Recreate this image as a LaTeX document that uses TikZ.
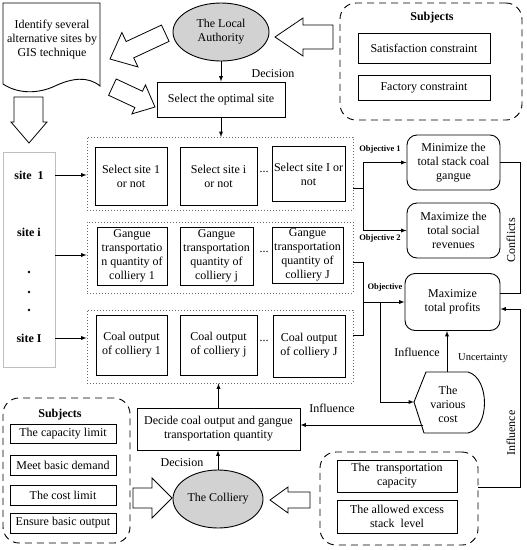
\documentclass[tikz,border=0pt]{standalone}
\usepackage{fontspec}
\setmainfont{Liberation Serif}
\usetikzlibrary{shapes.geometric}

\begin{document}
\begin{tikzpicture}[x=1pt, y=-1pt, >=latex, line width=0.9pt,
  font=\fontsize{12}{14}\selectfont,
  box/.style={draw, align=center, inner sep=1pt},
  rbox/.style={draw, rounded corners=10pt, align=center, inner sep=1pt},
  group/.style={draw=gray!80!black, dash pattern=on 1pt off 2pt},
  subj/.style={draw, dash pattern=on 7pt off 5pt, rounded corners=16pt},
  actor/.style={draw, ellipse, fill=gray!35, align=center, inner sep=0pt},
  hollow/.style={draw, fill=white, line width=0.8pt},
  bold/.style={font=\fontsize{12}{14}\selectfont\bfseries},
  tag/.style={font=\fontsize{8.5}{10}\selectfont\bfseries}]

  \useasboundingbox (0,0) rectangle (527,550);

  % top part
  \draw (3,3) -- (100,3) -- (100,86) .. controls (88,76) and (72,78) .. (55,86)
        .. controls (38,94) and (18,94) .. (3,84) -- cycle;
  \node[align=center] (doc) at (52,40) {Identify several\\alternative sites by\\GIS technique};

  \node[actor, minimum width=96pt, minimum height=58pt] (la) at (221,32) {The Local\\Authority};
  \node[box, minimum width=128pt, minimum height=35pt] (opt) at (221,99.5) {Select the optimal site};
  \node (dec1) at (273,74) {Decision};

  \node[subj, minimum width=182pt, minimum height=117pt] (subjR) at (431,61.5) {};
  \node[bold] (subjRt) at (432,18) {Subjects};
  \node[box, minimum width=132pt, minimum height=30pt] (sat) at (424,48) {Satisfaction constraint};
  \node[box, minimum width=132pt, minimum height=25pt] (fac) at (424,87.5) {Factory constraint};

  \draw[hollow] (275,37) -- (303,18) -- (303,25) -- (333,25) -- (333,49) -- (303,49) -- (303,56) -- cycle;
  \draw[hollow, rotate around={25:(110,59)}] (110,59) -- (132,40) -- (132,50) -- (171,50) -- (171,68) -- (132,68) -- (132,78) -- cycle;
  \draw[hollow, rotate around={-25:(155,107)}] (155,107) -- (137,91) -- (137,98) -- (108,98) -- (108,116) -- (137,116) -- (137,123) -- cycle;
  \draw[hollow] (29,143) -- (11,122) -- (14,122) -- (14,97) -- (43,97) -- (43,122) -- (47,122) -- cycle;

  \draw[->] (la) -- (opt);
  \draw[->] (opt.south) -- (opt.south |- 0,137);

  % sites
  \node[draw=gray!50, line width=0.8pt, minimum width=52pt, minimum height=215pt] (sites) at (29,259.5) {};
  \node[bold] (s1) at (29,175) {site~~1};
  \node[bold] (si) at (29,232) {site i};
  \fill (29,272) circle (1.3pt);
  \fill (29,292) circle (1.3pt);
  \fill (29,310) circle (1.3pt);
  \node[bold] (sI) at (29,338) {site I};

  % decision groups
  \node[group, minimum width=266pt, minimum height=73pt] (g1) at (220,173.5) {};
  \node[group, minimum width=266pt, minimum height=71pt] (g2) at (220,257.5) {};
  \node[group, minimum width=266pt, minimum height=73pt] (g3) at (220,346.5) {};

  \node[box, minimum width=72pt, minimum height=58pt] (a1) at (131,176) {Select site 1\\or not};
  \node[box, minimum width=77pt, minimum height=58pt] (a2) at (218.5,176) {Select site i\\or not};
  \node[box, minimum width=73pt, minimum height=55pt] (a3) at (308.5,174) {Select site I or\\not};
  \node (ad) at (264,172) {...};

  \node[box, minimum width=70pt, minimum height=58pt] (b1) at (132,256) {Gangue\\transportatio\\n quantity of\\colliery 1};
  \node[box, minimum width=73pt, minimum height=58pt] (b2) at (216.5,256) {Gangue\\transportation\\quantity of\\colliery j};
  \node[box, minimum width=71pt, minimum height=56pt] (b3) at (307.5,255) {Gangue\\transportation\\quantity of\\colliery J};
  \node (bd) at (264,252) {...};

  \node[box, minimum width=71pt, minimum height=60pt] (c1) at (131.5,345) {Coal output\\of colliery 1};
  \node[box, minimum width=77pt, minimum height=60pt] (c2) at (218.5,345) {Coal output\\of colliery j};
  \node[box, minimum width=72pt, minimum height=62pt] (c3) at (309,346) {Coal output\\of colliery J};
  \node (cd) at (264,341) {...};

  \coordinate (r2) at (0,255);
  \draw[->] (sites.east |- s1) -- (g1.west |- s1);
  \draw[->] (sites.east |- r2) -- (g2.west |- r2);
  \draw[->] (sites.east |- sI) -- (g3.west |- sI);

  % objectives
  \node[rbox, minimum width=93pt, minimum height=55pt] (obj1) at (453.5,162.5) {Minimize the\\total stack coal\\gangue};
  \node[rbox, minimum width=93pt, minimum height=55pt] (obj2) at (453.5,230.5) {Maximize the\\total social\\revenues};
  \node[rbox, minimum width=95pt, minimum height=57pt] (prof) at (452.5,302) {Maximize\\total profits};

  \coordinate (j1) at (363,188);
  \draw (g1.east |- j1) -- (j1);
  \draw[->] (j1) |- (obj1.west);
  \draw[->] (j1) |- (obj2.west);
  \node[tag] (o1) at (380,149) {Objective 1};
  \node[tag] (o2) at (380,238) {Objective 2};

  \coordinate (j2) at (363,262);
  \coordinate (j3) at (363,335);
  \draw (g2.east |- j2) -- (j2) -- (j3) -- (g3.east |- j3);
  \draw[->] (j2 |- prof.west) -- (prof.west);
  \node[tag] (o3) at (385,287) {Objective};

  % cost
  \draw (414,402) -- (426,372) -- (468,372) .. controls (490,378) and (490,428) .. (468,433) -- (424,433) -- cycle;
  \node[align=center] (cost) at (448,404) {The\\various\\cost};
  \coordinate (costW) at (414,402);
  \coordinate (costN) at (447,372);
  \coordinate (costSW) at (423,425);
  \coordinate (j4) at (380,0);
  \draw[->] (j4 |- prof.west) -- (j4 |- costW) -- (costW);
  \draw[->] (costN) -- (costN |- prof.south);
  \node (inf1) at (417,352) {Influence};
  \node[font=\fontsize{10.5}{12}\selectfont] (unc) at (483,358) {Uncertainty};

  \coordinate (k1) at (520,293);
  \draw (obj1.east) -| (k1) -- (k1 -| prof.east);
  \node[rotate=90] (conf) at (511,240) {Conflicts};

  % colliery
  \node[box, minimum width=163pt, minimum height=42pt] (decide) at (218.5,429) {Decide coal output and gangue\\transportation quantity};
  \node[actor, minimum width=90pt, minimum height=58pt] (coll) at (218,499) {The Colliery};
  \node (dec2) at (182,463) {Decision};
  \draw[->] (decide.north) -- (decide.north |- g3.south);
  \draw[->] (coll.north) -- (coll.north |- decide.south);
  \draw[->] (costSW) -- (costSW -| decide.east);
  \node (inf2) at (332,408) {Influence};

  \node[subj, minimum width=127pt, minimum height=145pt] (subjL) at (66.5,470.5) {};
  \node[bold] (subjLt) at (60,415) {Subjects};
  \node[box, minimum width=106pt, minimum height=19pt] (l1) at (63,434) {The capacity limit};
  \node[box, minimum width=106pt, minimum height=20pt] (l2) at (63,465) {Meet basic demand};
  \node[box, minimum width=106pt, minimum height=20pt] (l3) at (63,495) {The cost limit};
  \node[box, minimum width=106pt, minimum height=20pt] (l4) at (63,523) {Ensure basic output};
  \draw[hollow] (172,498) -- (152,478) -- (152,488) -- (133,488) -- (133,508) -- (152,508) -- (152,518) -- cycle;

  \node[subj, minimum width=158pt, minimum height=93pt] (subjB) at (399,498.5) {};
  \node[box, minimum width=120pt, minimum height=32pt] (t1) at (397,476) {The~~transportation\\capacity};
  \node[box, minimum width=120pt, minimum height=33pt] (t2) at (397,516.5) {The allowed excess\\stack~~level};
  \draw[hollow] (270,500) -- (288,487) -- (288,492) -- (310,492) -- (310,508) -- (288,508) -- (288,513) -- cycle;

  \coordinate (k2) at (520,487);
  \coordinate (k3) at (520,309);
  \draw[->] (subjB.east |- k2) -- (k2) -- (k3) -- (k3 -| prof.east);
  \node[rotate=90] (inf3) at (511,433) {Influence};

\end{tikzpicture}
\end{document}
